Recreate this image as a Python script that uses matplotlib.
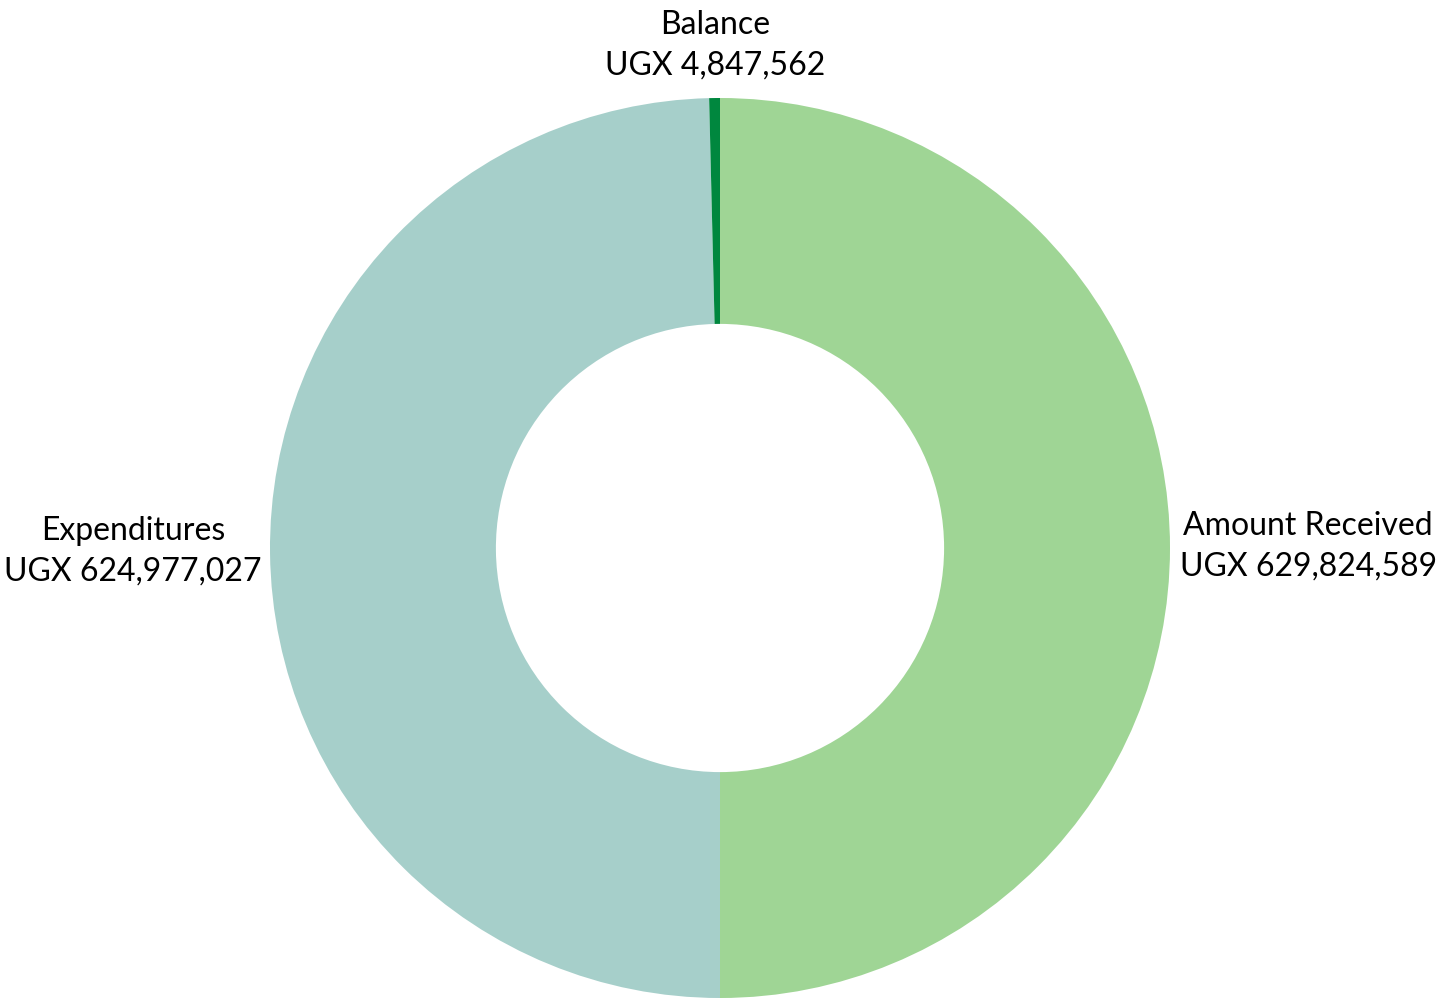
import numpy as np
import matplotlib
matplotlib.use("Agg")
import matplotlib.pyplot as plt

# data (clockwise from 12 o'clock)
labels = ["Amount Received", "Expenditures", "Balance"]
values = [629824589, 624977027, 4847562]
colors = ["#9FD595", "#A6CFCA", "#00873E"]

plt.rcParams['font.family'] = ['Lato', 'DejaVu Sans']

fig = plt.figure(figsize=(14.56, 9.99), dpi=100)
ax = fig.add_axes([270 / 1456, 1 / 999, 900 / 1456, 900 / 999])

wedges, _ = ax.pie(values, colors=colors, startangle=90, counterclock=False,
                   radius=1.0, wedgeprops=dict(width=0.502, linewidth=0))
ax.set_xlim(-1, 1)
ax.set_ylim(-1, 1)
ax.set_aspect('equal')
ax.axis('off')

# label placement (data units, radius of the ring is 1)
label_pos = {
    "Amount Received": (1.307, 0.004),
    "Balance": (-0.011, 1.118),
    "Expenditures": (-1.304, -0.007),
}
for name, v in zip(labels, values):
    x, y = label_pos[name]
    ax.text(x, y, "%s\nUGX %s" % (name, format(v, ",")), ha='center', va='center',
            fontsize=23, linespacing=1.45, color='black', clip_on=False)

fig.savefig("out.png", dpi=100)
